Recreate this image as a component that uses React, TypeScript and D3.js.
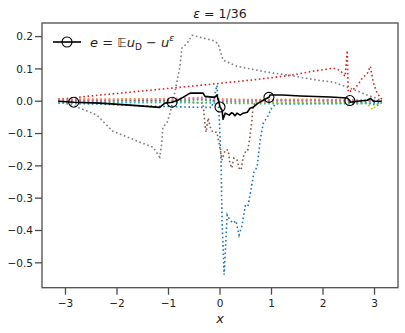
import React from "react";
import * as d3 from "d3";

type P = [number, number];

const xTicks = [-3, -2, -1, 0, 1, 2, 3];
const yTicks = [0.2, 0.1, 0.0, -0.1, -0.2, -0.3, -0.4, -0.5];

const blue: P[] = [
  [-3.14, -0.006], [-2.33, -0.009], [-1.36, -0.015], [-0.39, -0.019], [-0.16, -0.019],
  [-0.06, 0.049], [-0.02, -0.037], [0.02, -0.18], [0.04, -0.37], [0.08, -0.537],
  [0.14, -0.352], [0.19, -0.367], [0.25, -0.377], [0.31, -0.37], [0.37, -0.414],
  [0.43, -0.383], [0.49, -0.324], [0.54, -0.327], [0.6, -0.275], [0.66, -0.219],
  [0.72, -0.204], [0.78, -0.12], [0.84, -0.068], [0.93, -0.046], [1.01, -0.019],
  [1.09, -0.008], [2.0, -0.007], [3.14, -0.005],
];
const orange: P[] = [
  [-3.14, 0.006], [-2.0, 0.007], [-1.0, 0.008], [-0.5, 0.011], [-0.2, 0.013],
  [0.0, 0.007], [0.7, 0.005], [1.5, 0.006], [2.5, 0.005], [3.0, 0.002], [3.14, 0.003],
];
const green: P[] = [
  [-3.14, -0.001], [-2.0, -0.001], [-1.0, 0.0], [-0.4, 0.005], [0.0, -0.001],
  [1.0, -0.003], [2.0, -0.004], [2.8, -0.004], [3.05, -0.013], [3.14, -0.004],
];
const red: P[] = [
  [-3.14, 0.006], [-2.33, 0.019], [-1.36, 0.034], [-0.39, 0.049], [0.58, 0.065],
  [1.36, 0.08], [1.81, 0.093], [2.2, 0.102], [2.33, 0.096], [2.43, 0.077],
  [2.47, 0.157], [2.49, 0.028], [2.57, 0.034], [2.67, 0.049], [2.76, 0.071],
  [2.86, 0.086], [2.92, 0.108], [2.98, 0.056], [3.05, 0.025], [3.14, 0.006],
];
const purple: P[] = [
  [-3.14, 0.003], [-2.0, 0.003], [-1.0, 0.004], [-0.4, 0.008], [0.0, 0.003],
  [1.0, 0.002], [2.0, 0.002], [3.14, 0.0],
];
const brown: P[] = [
  [-3.14, 0.002], [-1.0, 0.002], [-0.33, -0.006], [-0.29, -0.074], [-0.27, -0.096],
  [-0.23, -0.052], [-0.19, -0.08], [-0.14, -0.096], [-0.06, -0.096], [0.0, -0.145],
  [0.04, -0.182], [0.1, -0.151], [0.16, -0.151], [0.19, -0.191], [0.23, -0.207],
  [0.27, -0.176], [0.33, -0.182], [0.37, -0.207], [0.41, -0.213], [0.45, -0.173],
  [0.51, -0.151], [0.54, -0.151], [0.58, -0.111], [0.62, -0.059], [0.64, -0.019],
  [0.7, 0.003], [3.14, 0.001],
];
const pink: P[] = [
  [-3.14, 0.005], [-2.0, 0.005], [-1.0, 0.006], [-0.5, 0.009], [-0.2, 0.011],
  [0.0, 0.005], [1.0, 0.004], [2.0, 0.004], [3.14, 0.002],
];
const gray: P[] = [
  [-3.14, 0.0], [-2.82, -0.015], [-2.39, -0.043], [-2.08, -0.093], [-1.89, -0.105],
  [-1.5, -0.13], [-1.3, -0.142], [-1.21, -0.164], [-1.17, -0.173], [-1.13, -0.13],
  [-1.11, -0.08], [-1.03, -0.068], [-0.97, -0.037], [-0.88, 0.025], [-0.78, 0.105],
  [-0.74, 0.164], [-0.64, 0.179], [-0.54, 0.204], [-0.39, 0.198], [-0.14, 0.188],
  [-0.04, 0.179], [0.06, 0.127], [0.33, 0.108], [0.91, 0.09], [1.36, 0.08],
  [1.89, 0.065], [2.2, 0.059], [2.53, 0.04], [2.86, 0.019], [3.14, 0.003],
];
const olive: P[] = [
  [-3.14, -0.003], [-2.0, -0.003], [-1.0, -0.002], [0.0, -0.004], [1.0, -0.005],
  [2.0, -0.006], [2.85, -0.007], [2.97, -0.026], [3.05, -0.009], [3.14, -0.006],
];
const cyan: P[] = [
  [-3.14, -0.005], [-2.0, -0.005], [-1.0, -0.004], [0.0, -0.006], [1.0, -0.008],
  [2.0, -0.008], [3.14, -0.007],
];

const errorLine: P[] = [
  [-3.14, 0.0], [-2.84, -0.003], [-2.33, -0.006], [-1.75, -0.012], [-1.17, -0.019],
  [-1.07, -0.006], [-0.93, -0.003], [-0.82, 0.003], [-0.72, 0.012], [-0.58, 0.025],
  [-0.33, 0.025], [-0.29, 0.015], [-0.1, 0.012], [-0.06, 0.019], [-0.02, -0.003],
  [0.0, -0.018], [0.04, -0.028], [0.06, -0.056], [0.1, -0.037], [0.14, -0.04],
  [0.18, -0.043], [0.22, -0.036], [0.25, -0.037], [0.29, -0.045], [0.33, -0.037],
  [0.39, -0.043], [0.45, -0.037], [0.53, -0.034], [0.58, -0.022], [0.64, -0.019],
  [0.74, -0.006], [0.84, 0.003], [0.91, 0.009], [0.95, 0.012], [0.97, 0.019],
  [1.21, 0.019], [1.56, 0.016], [2.14, 0.013], [2.47, 0.01], [2.52, 0.002],
  [2.53, -0.003], [2.67, 0.0], [2.86, 0.003], [2.92, 0.009], [2.98, 0.0], [3.14, 0.0],
];
const markerIdx = [1, 6, 15, 33, 39];

const series: { data: P[]; color: string }[] = [
  { data: blue, color: "#1f77b4" },
  { data: orange, color: "#ff7f0e" },
  { data: green, color: "#2ca02c" },
  { data: red, color: "#d62728" },
  { data: purple, color: "#9467bd" },
  { data: brown, color: "#8c564b" },
  { data: pink, color: "#e377c2" },
  { data: gray, color: "#7f7f7f" },
  { data: olive, color: "#bcbd22" },
  { data: cyan, color: "#17becf" },
];

const W = 405;
const H = 333;
const L = 42, R = 398, T = 23, B = 287.7;

export default function App() {
  const x = d3.scaleLinear().domain([-1.1 * Math.PI, 1.1 * Math.PI]).range([L, R]);
  const y = d3.scaleLinear().domain([-0.577, 0.242]).range([B, T]);
  const line = d3.line<P>().x((d) => x(d[0])).y((d) => y(d[1]));
  const font = "DejaVu Sans, sans-serif";
  const axisColor = "#4d4d4d";
  const fmt = (v: number) => d3.format(".1f")(v).replace("-", "\u2212");
  return (
    <svg width={W} height={H} style={{ position: "absolute", left: 0, top: 0, background: "#fff" }} fontFamily={font}>
      <defs>
        <clipPath id="plot">
          <rect x={L} y={T} width={R - L} height={B - T} />
        </clipPath>
      </defs>
      <g clipPath="url(#plot)">
        {series.map((s, i) => (
          <path key={i} d={line(s.data) || ""} fill="none" stroke={s.color} strokeWidth={1.6} strokeDasharray="1.6 2.6" />
        ))}
        <path d={line(errorLine) || ""} fill="none" stroke="#000" strokeWidth={1.6} strokeLinejoin="round" />
        {markerIdx.map((k) => (
          <circle key={k} cx={x(errorLine[k][0])} cy={y(errorLine[k][1])} r={5} fill="none" stroke="#000" strokeWidth={1.1} />
        ))}
      </g>
      <rect x={L} y={T} width={R - L} height={B - T} fill="none" stroke={axisColor} strokeWidth={1.3} />
      {xTicks.map((t) => (
        <g key={t}>
          <line x1={x(t)} x2={x(t)} y1={B} y2={B + 7} stroke={axisColor} strokeWidth={1.3} />
          <text x={x(t)} y={B + 19} fontSize={10.5} textAnchor="middle" fill="#222">{String(t).replace("-", "\u2212")}</text>
        </g>
      ))}
      {yTicks.map((t) => (
        <g key={t}>
          <line x1={L - 7} x2={L} y1={y(t)} y2={y(t)} stroke={axisColor} strokeWidth={1.3} />
          <text x={L - 9} y={y(t) + 3.8} fontSize={10.5} textAnchor="end" fill="#222">{fmt(t)}</text>
        </g>
      ))}
      <text x={220} y={18} fontSize={12.5} textAnchor="middle" fill="#222">
        <tspan fontStyle="italic">ε</tspan> = 1/36
      </text>
      <text x={220} y={323} fontSize={13} textAnchor="middle" fontStyle="italic" fill="#222">x</text>
      <g>
        <line x1={53} x2={81} y1={42} y2={42} stroke="#000" strokeWidth={1.6} />
        <circle cx={67} cy={42} r={5} fill="none" stroke="#000" strokeWidth={1.1} />
        <text x={90} y={46.5} fontSize={13} fill="#222">
          <tspan fontStyle="italic">e</tspan>
          <tspan> = </tspan>
          <tspan>𝔼</tspan>
          <tspan fontStyle="italic">u</tspan>
          <tspan fontSize={9} dy={3}>D</tspan>
          <tspan dy={-3}> − </tspan>
          <tspan fontStyle="italic">u</tspan>
          <tspan fontSize={9} dy={-6} fontStyle="italic">ε</tspan>
        </text>
      </g>
    </svg>
  );
}
